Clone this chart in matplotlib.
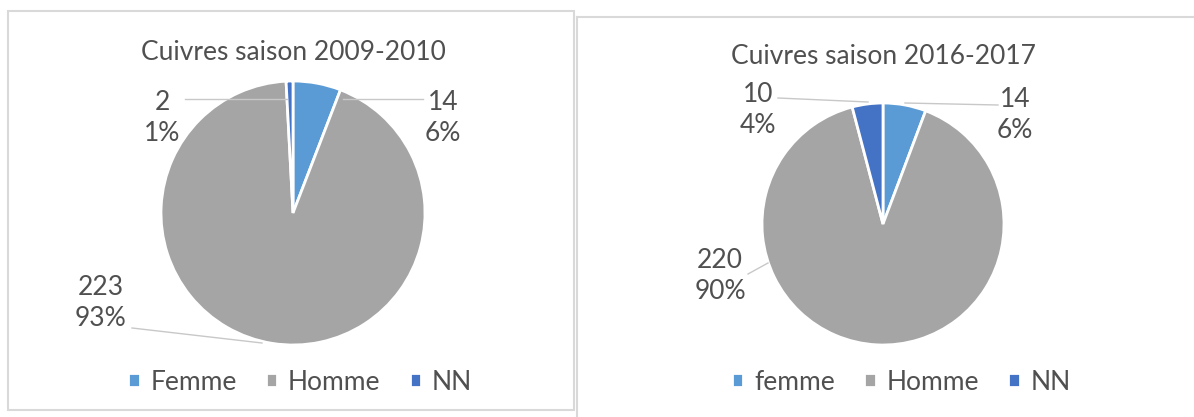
import matplotlib
matplotlib.use("Agg")
import matplotlib.pyplot as plt
from matplotlib.lines import Line2D
from matplotlib.patches import Rectangle

# data
titles = ["Cuivres saison 2009-2010", "Cuivres saison 2016-2017"]
labels_left = ["Femme", "Homme", "NN"]
labels_right = ["femme", "Homme", "NN"]
values_left = [14, 223, 2]
values_right = [14, 220, 10]

colors = ["#5B9BD5", "#A5A5A5", "#4472C4"]
txt = "#505050"
W, H = 1194, 417

plt.rcParams['font.family'] = ['Lato', 'DejaVu Sans']

fig = plt.figure(figsize=(W / 100, H / 100), dpi=100)


def fx(x):
    return x / W


def fy(y):
    return 1 - y / H


# panel frames
fig.add_artist(Rectangle((fx(8), fy(410)), fx(574 - 8), (410 - 11) / H,
                         transform=fig.transFigure, fill=False,
                         edgecolor="#D9D9D9", lw=1.5))
fig.add_artist(Line2D([fx(577), fx(1194)], [fy(17), fy(17)],
                      transform=fig.transFigure, color="#D9D9D9", lw=1.5))
fig.add_artist(Line2D([fx(577), fx(577)], [fy(17), fy(417)],
                      transform=fig.transFigure, color="#D9D9D9", lw=1.5))


def draw_pie(cx, cy, r, vals, names, title, title_y, lab_pos, leaders, leg_x):
    ax = fig.add_axes([fx(cx - r), fy(cy + r), 2 * r / W, 2 * r / H])
    wedges, _ = ax.pie(vals, colors=colors, startangle=90, counterclock=False,
                       radius=1, wedgeprops=dict(edgecolor="white", linewidth=2))
    ax.set_xlim(-1, 1)
    ax.set_ylim(-1, 1)
    ax.set_aspect("equal")
    fig.text(fx(cx), fy(title_y), title, ha="center", va="center",
             fontsize=19, color=txt)
    total = sum(vals)
    for v, (lx, ly) in zip(vals, lab_pos):
        pct = round(100 * v / total)
        fig.text(fx(lx), fy(ly), "%d\n%d%%" % (v, pct), ha="center", va="center",
                 fontsize=19, color=txt, linespacing=1.3)
    for (x0, y0), (x1, y1) in leaders:
        fig.add_artist(Line2D([fx(x0), fx(x1)], [fy(y0), fy(y1)],
                              transform=fig.transFigure, color="#C8C8C8", lw=1))
    fig.legend(wedges, names, loc="center", bbox_to_anchor=(fx(leg_x), fy(382)),
               ncol=3, frameon=False, fontsize=19, labelcolor=txt,
               handlelength=0.45, handleheight=0.45, handletextpad=0.4,
               columnspacing=1.1)


draw_pie(293, 213, 132, values_left, labels_left, titles[0], 52,
         [(443, 118), (101, 303), (162, 118)],
         [((343, 99), (423, 99)), ((132, 328), (262, 343)), ((185, 99), (287, 99))],
         300)

draw_pie(883, 224, 121, values_right, labels_right, titles[1], 57,
         [(1015, 115), (720, 276), (758, 110)],
         [((905, 103), (998, 105)), ((748, 274), (768, 263)), ((778, 98), (868, 102))],
         901)

fig.savefig("out.png", dpi=100)
